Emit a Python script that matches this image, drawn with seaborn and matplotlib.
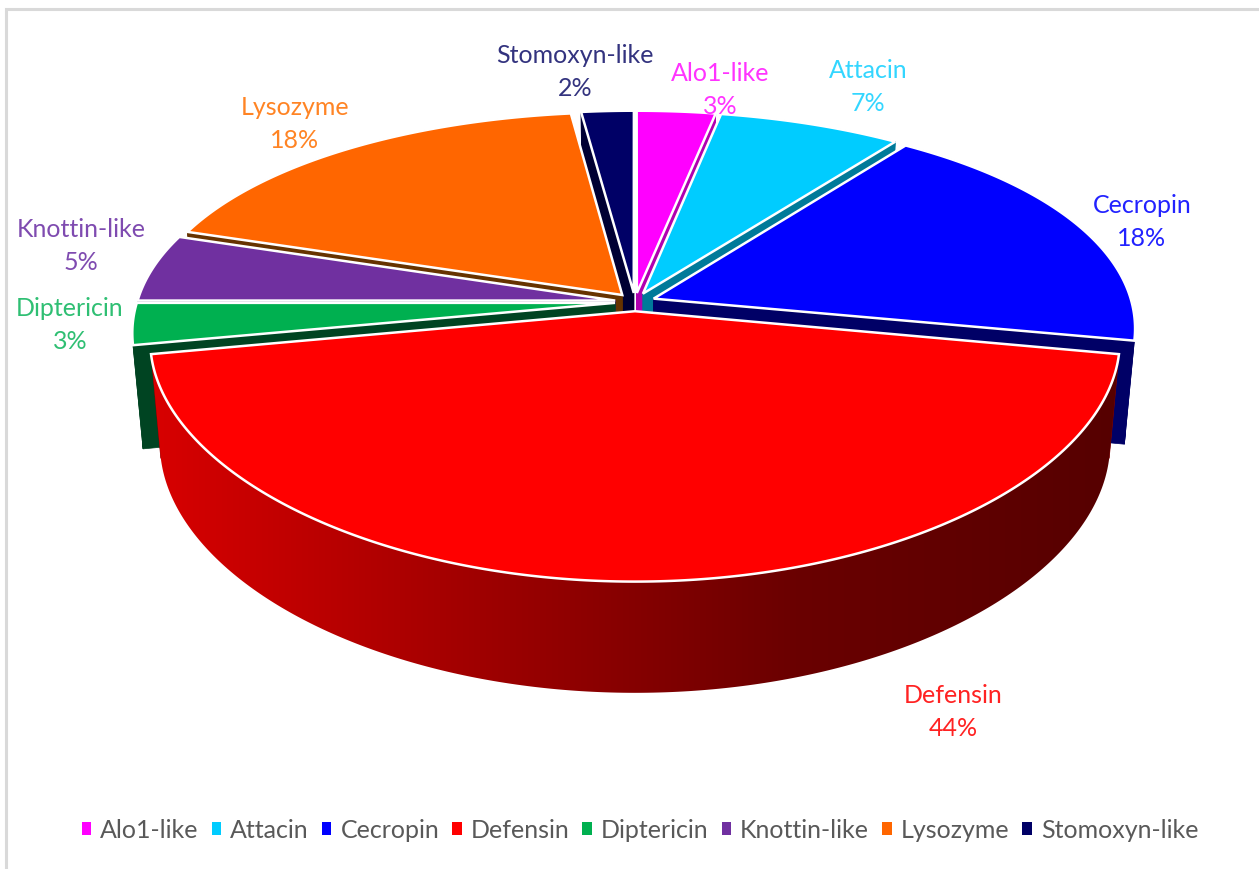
import numpy as np
import matplotlib
matplotlib.use("Agg")
import matplotlib.pyplot as plt
from matplotlib.patches import Patch, Polygon
import seaborn as sns

# Share of each antimicrobial peptide family (percent)
families = ["Alo1-like", "Attacin", "Cecropin", "Defensin",
            "Diptericin", "Knottin-like", "Lysozyme", "Stomoxyn-like"]
shares = [3, 7, 18, 44, 3, 5, 18, 2]

slice_hex = ["#FF00FF", "#00CCFF", "#0000FF", "#FF0000",
             "#00B050", "#7030A0", "#FF6600", "#000066"]
face_hex = ["#B000B0", "#007A99", "#000066", "#8A0000",
            "#004422", "#3E1A5A", "#663300", "#000033"]
label_hex = ["#FF33FF", "#33D6FF", "#2222FF", "#FF2222",
             "#2FBF73", "#7F4BB0", "#FF8424", "#33337F"]
label_xy = [(720, 90), (868, 87), (1142, 222), (953, 712),
            (70, 325), (81, 246), (295, 124), (575, 72)]

sns.set_theme(style="white")
plt.rcParams["font.family"] = ["Lato", "DejaVu Sans"]

fig = plt.figure(figsize=(12.59, 8.70), dpi=100, facecolor="white")
ax = fig.add_axes([0, 0, 1, 1])
ax.axis("off")

# Thin frame of the chart area
ax.plot([6.5, 6.5, 1259], [870, 9.5, 9.5], color="#D9D9D9", lw=2.2,
        solid_joinstyle="miter", zorder=1)

# Projection of the tilted disc onto the page
CX, CY = 635.0, 303.0
RX, RY = 478.0, 218.0
KX, KY = 0.13, 0.18
DROP, SHRINK_X, SHRINK_Y = 106.0, 0.02, 0.04
EXPLODE = 0.042


def project(x, y, z=0.0):
    x, y = np.asarray(x, float), np.asarray(y, float)
    px = CX + RX * x / (1 + KX * y + SHRINK_X * z)
    py = CY + (DROP * z - RY * y) / (1 + KY * y + SHRINK_Y * z)
    return px, py


colors = sns.color_palette(slice_hex)
faces = sns.color_palette(face_hex)
edges = np.cumsum([0] + shares) / sum(shares) * 2 * np.pi
mids = (edges[:-1] + edges[1:]) / 2
order = np.argsort(-np.cos(mids))  # far slices are painted first

for i in order:
    a0, a1 = edges[i], edges[i + 1]
    ox, oy = EXPLODE * np.sin(mids[i]), EXPLODE * np.cos(mids[i])
    n = max(int((a1 - a0) * 90), 6)
    t = np.linspace(a0, a1, n + 1)
    rim_x, rim_y = ox + np.sin(t), oy + np.cos(t)

    # Radial cut faces
    for a in (a0, a1):
        qx = [ox, ox + np.sin(a), ox + np.sin(a), ox]
        qy = [oy, oy + np.cos(a), oy + np.cos(a), oy]
        px, py = project(qx, qy, np.array([0, 0, 1, 1]))
        ax.fill(px, py, color=faces[i], lw=0.5, zorder=2)

    # Outer wall; the large front slice is shaded from left to right
    top_x, top_y = project(rim_x, rim_y, 0.0)
    low_x, low_y = project(rim_x, rim_y, 1.0)
    wall = np.column_stack([np.r_[top_x, low_x[::-1]], np.r_[top_y, low_y[::-1]]])
    if families[i] == "Defensin":
        shade = sns.blend_palette(["#D80000", "#A00000", "#6A0000", "#560000"], 256)
        strip = np.array(shade)[np.newaxis, :, :]
        img = ax.imshow(strip, extent=(wall[:, 0].min(), wall[:, 0].max(),
                                       wall[:, 1].max(), wall[:, 1].min()),
                        aspect="auto", interpolation="bilinear", zorder=2)
        img.set_clip_path(Polygon(wall, closed=True, transform=ax.transData))
    else:
        ax.fill(wall[:, 0], wall[:, 1], color=faces[i], lw=0.5, zorder=2)

    # Top face of the slice
    px, py = project(np.r_[ox, rim_x], np.r_[oy, rim_y], 0.0)
    ax.fill(px, py, facecolor=colors[i], edgecolor="white", lw=1.8,
            joinstyle="miter", zorder=2)

ax.set_xlim(0, 1259)
ax.set_ylim(870, 0)

# Data labels
for name, share, (lx, ly), col in zip(families, shares, label_xy, label_hex):
    ax.text(lx, ly, f"{name}\n{share}%", color=col, fontsize=18, ha="center",
            va="center", linespacing=1.49, zorder=5)

handles = [Patch(facecolor=c, edgecolor="none", label=n)
           for n, c in zip(families, colors)]
ax.legend(handles=handles, ncol=len(handles), loc="center",
          bbox_to_anchor=(640 / 1259, 1 - 831 / 870), frameon=False,
          fontsize=18, labelcolor="#595959", handlelength=0.38, handleheight=0.38,
          handletextpad=0.36, columnspacing=0.52, borderpad=0, borderaxespad=0)

fig.savefig("out.png", dpi=100, facecolor="white")
